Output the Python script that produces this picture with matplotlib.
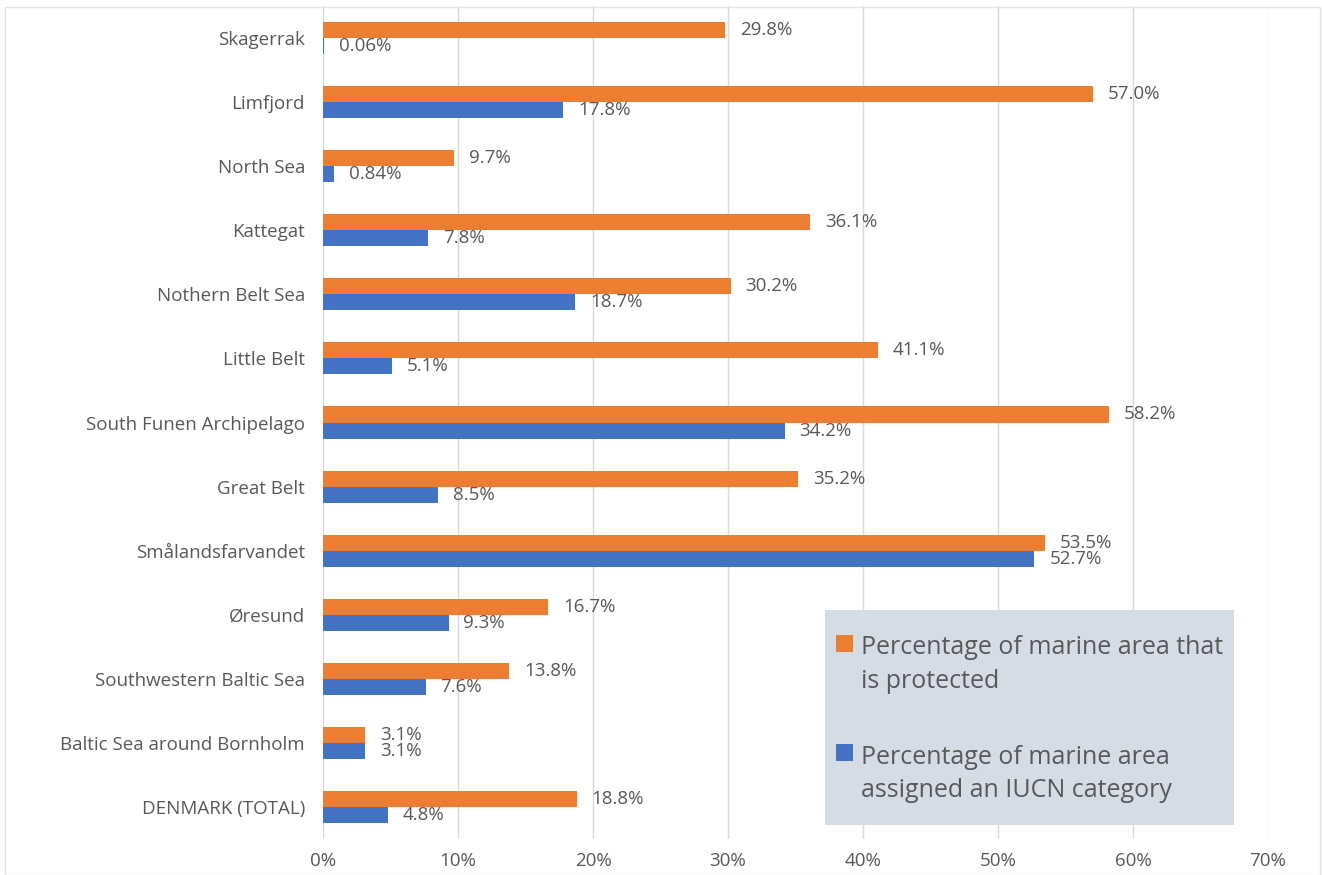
import matplotlib
matplotlib.use("Agg")
import matplotlib.pyplot as plt
from matplotlib.patches import Rectangle, Patch
from matplotlib.legend_handler import HandlerBase
import numpy as np

plt.rcParams['font.family'] = ['Open Sans', 'DejaVu Sans']

categories = ["Skagerrak", "Limfjord", "North Sea", "Kattegat", "Nothern Belt Sea",
              "Little Belt", "South Funen Archipelago", "Great Belt", "Smålandsfarvandet",
              "Øresund", "Southwestern Baltic Sea", "Baltic Sea around Bornholm",
              "DENMARK (TOTAL)"]
protected = [29.8, 57.0, 9.7, 36.1, 30.2, 41.1, 58.2, 35.2, 53.5, 16.7, 13.8, 3.1, 18.8]
iucn = [0.06, 17.8, 0.84, 7.8, 18.7, 5.1, 34.2, 8.5, 52.7, 9.3, 7.6, 3.1, 4.8]
protected_labels = ["29.8%", "57.0%", "9.7%", "36.1%", "30.2%", "41.1%", "58.2%",
                    "35.2%", "53.5%", "16.7%", "13.8%", "3.1%", "18.8%"]
iucn_labels = ["0.06%", "17.8%", "0.84%", "7.8%", "18.7%", "5.1%", "34.2%",
               "8.5%", "52.7%", "9.3%", "7.6%", "3.1%", "4.8%"]
xticks = [0, 10, 20, 30, 40, 50, 60, 70]
xtick_labels = ["0%", "10%", "20%", "30%", "40%", "50%", "60%", "70%"]
legend_labels = ["Percentage of marine area that\nis protected",
                 "Percentage of marine area\nassigned an IUCN category"]

ORANGE = "#ED7D31"
BLUE = "#4472C4"
TXT = "#595959"
FS = 13.5
LEG_FS = 18
LEG_LS = 1.45


class TopSquareHandler(HandlerBase):
    def create_artists(self, legend, orig_handle, xdescent, ydescent, width, height,
                       fontsize, trans):
        s = 0.68 * fontsize
        yb = (LEG_LS * fontsize) + 0.36 * fontsize - s / 2 - 10.5
        r = Rectangle((-xdescent, yb), s, s, facecolor=orig_handle.get_facecolor(),
                      edgecolor="none", transform=trans)
        return [r]


W, H = 1322, 875
fig = plt.figure(figsize=(W / 100, H / 100), dpi=100)
ax = fig.add_axes([323 / W, 1 - 839 / H, (1268 - 323) / W, (839 - 6) / H])

y = np.arange(len(categories))
bh = 0.25
ax.barh(y - bh / 2, protected, height=bh, color=ORANGE, zorder=3)
ax.barh(y + bh / 2, iucn, height=bh, color=BLUE, zorder=3)

for yi, v, lab in zip(y, protected, protected_labels):
    ax.text(v + 1.1, yi - bh / 2, lab, va="center", ha="left", fontsize=FS, color=TXT)
for yi, v, lab in zip(y, iucn, iucn_labels):
    ax.text(v + 1.1, yi + bh / 2, lab, va="center", ha="left", fontsize=FS, color=TXT)

ax.set_ylim(len(categories) - 0.5, -0.5)
ax.set_xlim(0, 70)
ax.set_yticks(y)
ax.set_yticklabels(categories, fontsize=FS, color=TXT)
ax.set_xticks(xticks)
ax.set_xticklabels(xtick_labels, fontsize=FS, color=TXT)
ax.tick_params(axis="both", length=0)
ax.tick_params(axis="y", pad=13)
ax.tick_params(axis="x", pad=9)
for s in ax.spines.values():
    s.set_visible(False)
ax.grid(axis="x", color="#D9D9D9", linewidth=1, zorder=0)
ax.set_axisbelow(True)

# legend background
x0 = (825 - 323) / (1268 - 323)
y0 = (839 - 825) / (839 - 6)
w = (1234 - 825) / (1268 - 323)
h = (825 - 610) / (839 - 6)
ax.add_patch(Rectangle((x0, y0), w, h, transform=ax.transAxes, facecolor="#D6DCE4",
                       edgecolor="none", zorder=4, clip_on=False))
handles = [Patch(facecolor=ORANGE), Patch(facecolor=BLUE)]
leg = ax.legend(handles, legend_labels, loc="upper left",
                bbox_to_anchor=(x0 - 0.0098, y0 + h - 0.006), frameon=False,
                fontsize=LEG_FS, labelcolor=TXT, handlelength=0.68, handleheight=0.7,
                handletextpad=0.35, labelspacing=2.05, borderpad=0.3,
                handler_map={Patch: TopSquareHandler()})
for t in leg.get_texts():
    t.set_linespacing(LEG_LS)
leg.set_zorder(5)

# outer chart frame
fig.add_artist(Rectangle((5 / W, 0), (1320 - 5) / W, 1 - 7 / H, transform=fig.transFigure,
                         facecolor="none", edgecolor="#E3E3E3", linewidth=1))

fig.savefig("out.png", dpi=100)
